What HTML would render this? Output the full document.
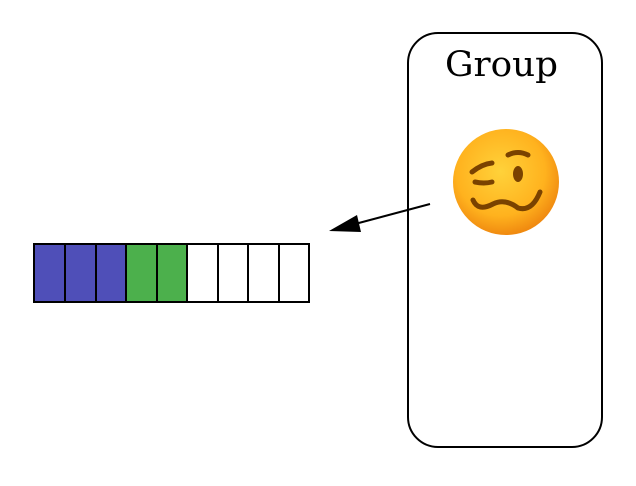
<!DOCTYPE html>
<html><head><style>body{margin:0;background:#fff}</style></head><body>
<svg width="636" height="481" xmlns="http://www.w3.org/2000/svg">
<defs>
<radialGradient id="g" cx="45%" cy="40%" r="60%">
<stop offset="0" stop-color="#ffd23a"/><stop offset="0.7" stop-color="#ffb21e"/><stop offset="1" stop-color="#f08a10"/>
</radialGradient>
</defs>
<rect x="408" y="33" width="194" height="414" rx="30" fill="none" stroke="#000" stroke-width="2"/>
<text x="445" y="76" font-family="DejaVu Serif, serif" font-size="35" textLength="113" lengthAdjust="spacingAndGlyphs">Group</text>
<circle cx="506" cy="182" r="53" fill="url(#g)"/>
<g fill="none" stroke="#7a4200" stroke-width="5" stroke-linecap="round">
<path d="M472 172 Q482 164 492 163"/>
<path d="M475 182 Q484 184 492 182"/>
<path d="M508 155 Q518 150 528 155"/>
<path d="M473 200 Q478 212 493 204 Q505 198 518 208 Q532 212 540 192"/>
</g>
<ellipse cx="518" cy="174" rx="5" ry="8" fill="#7a4200"/>
<line x1="430" y1="204" x2="355" y2="224" stroke="#000" stroke-width="2"/>
<polygon points="329,231 357,215 361,232" fill="#000"/>
<g stroke="#000" stroke-width="2">
<rect x="34" y="244" width="31" height="58" fill="#4f4fb8"/>
<rect x="65" y="244" width="31" height="58" fill="#4f4fb8"/>
<rect x="96" y="244" width="30" height="58" fill="#4f4fb8"/>
<rect x="126" y="244" width="31" height="58" fill="#4cb04c"/>
<rect x="157" y="244" width="30" height="58" fill="#4cb04c"/>
<rect x="187" y="244" width="31" height="58" fill="#fff"/>
<rect x="218" y="244" width="30" height="58" fill="#fff"/>
<rect x="248" y="244" width="31" height="58" fill="#fff"/>
<rect x="279" y="244" width="30" height="58" fill="#fff"/>
</g>
</svg>
</body></html>
